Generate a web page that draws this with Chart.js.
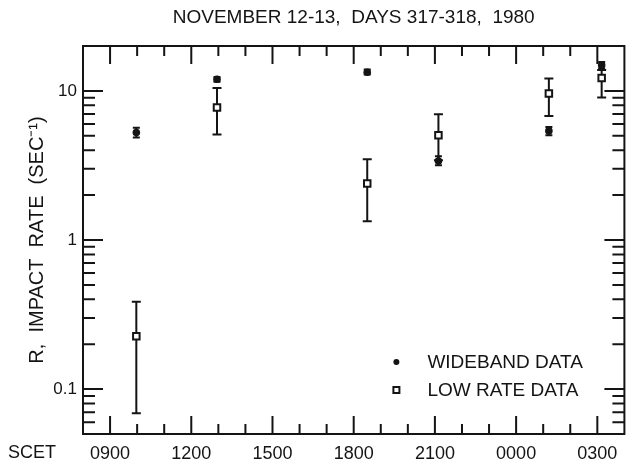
<!DOCTYPE html>
<html lang="en">

<head>
    <title>Impact Rate, November 12-13 1980</title>
    <script src="https://cdn.jsdelivr.net/npm/chart.js"></script>
    <style>
        body { margin: 0; background: #fff; }
    </style>
</head>

<body>
    <canvas id="chart" width="631" height="466"></canvas>

    <script>
        // SCET hour of each measurement (24 = 0000 next day)
        const scetHours = [9.97, 12.95, 18.5, 21.13, 25.21, 27.16];

        // Wideband data: value and error bar ends
        const widebandRate = [5.26, 11.98, 13.35, 3.39, 5.39, 14.9];
        const widebandLow  = [4.87, 11.5, 12.9, 3.17, 5.05, 14.2];
        const widebandHigh = [5.65, 12.4, 13.9, 3.65, 5.73, 15.6];

        // Low rate data: value and error bar ends
        const lowRate     = [0.226, 7.74, 2.39, 5.04, 9.61, 12.2];
        const lowRateLow  = [0.069, 5.10, 1.335, 3.43, 6.79, 9.03];
        const lowRateHigh = [0.386, 10.47, 3.48, 6.98, 12.11, 13.8];

        // Axis ticks
        const xTickHours  = [9, 12, 15, 18, 21, 24, 27];
        const xTickLabels = ['0900', '1200', '1500', '1800', '2100', '0000', '0300'];
        const yTickValues = [0.1, 1, 10];
        const yTickLabels = ['0.1', '1', '10'];

        const INK = '#141414';
        const FONT = "'Liberation Sans', Arial, sans-serif";

        const toPoints = (ys, lo, hi) => ys.map((y, i) => ({ x: scetHours[i], y: y, lo: lo[i], hi: hi[i] }));

        // Error bars, drawn under the markers
        const errorBars = {
            id: 'errorBars',
            beforeDatasetsDraw(chart) {
                const ctx = chart.ctx;
                const xs = chart.scales.x, ys = chart.scales.y;
                ctx.save();
                ctx.strokeStyle = INK;
                ctx.lineWidth = 2;
                chart.data.datasets.forEach(ds => {
                    const cap = ds.capWidth / 2;
                    ds.data.forEach(p => {
                        const x = xs.getPixelForValue(p.x);
                        const yl = ys.getPixelForValue(p.lo);
                        const yh = ys.getPixelForValue(p.hi);
                        ctx.beginPath();
                        ctx.moveTo(x, yl); ctx.lineTo(x, yh);
                        ctx.moveTo(x - cap, yl); ctx.lineTo(x + cap, yl);
                        ctx.moveTo(x - cap, yh); ctx.lineTo(x + cap, yh);
                        ctx.stroke();
                    });
                });
                ctx.restore();
            }
        };

        // Box frame with inward ticks on all four sides, plus legend and SCET label
        const frame = {
            id: 'frame',
            afterDraw(chart) {
                const ctx = chart.ctx;
                const a = chart.chartArea;
                const xs = chart.scales.x, ys = chart.scales.y;
                ctx.save();
                ctx.strokeStyle = INK;
                ctx.lineWidth = 2;
                ctx.strokeRect(a.left, a.top, a.right - a.left, a.bottom - a.top);

                ctx.beginPath();
                for (let h = Math.ceil(xs.min) + 1; h < xs.max; h++) {
                    const x = xs.getPixelForValue(h);
                    const len = h % 3 === 0 ? 18 : 10;
                    ctx.moveTo(x, a.bottom); ctx.lineTo(x, a.bottom - len);
                    ctx.moveTo(x, a.top); ctx.lineTo(x, a.top + len);
                }
                for (let d = -2; d <= 1; d++) {
                    for (let m = 1; m <= 9; m++) {
                        const v = m * Math.pow(10, d);
                        if (v <= ys.min || v >= ys.max) continue;
                        const y = ys.getPixelForValue(v);
                        const len = m === 1 ? 20 : 12;
                        ctx.moveTo(a.left, y); ctx.lineTo(a.left + len, y);
                        ctx.moveTo(a.right, y); ctx.lineTo(a.right - len, y);
                    }
                }
                ctx.stroke();

                // SCET label beside the x tick labels
                ctx.fillStyle = INK;
                ctx.font = '18px ' + FONT;
                ctx.textAlign = 'center';
                ctx.textBaseline = 'top';
                ctx.fillText('SCET', 32, xs.top + 10);

                // Legend
                const lx = a.right - 228;
                const rows = [a.bottom - 72, a.bottom - 44];
                ctx.font = '19px ' + FONT;
                ctx.textAlign = 'left';
                ctx.textBaseline = 'middle';
                chart.data.datasets.forEach((ds, i) => {
                    const y = rows[i];
                    if (ds.pointStyle === 'circle') {
                        ctx.beginPath();
                        ctx.arc(lx, y, 3, 0, Math.PI * 2);
                        ctx.fill();
                    } else {
                        ctx.fillStyle = '#fff';
                        ctx.fillRect(lx - 3, y - 3, 6, 6);
                        ctx.strokeRect(lx - 3, y - 3, 6, 6);
                        ctx.fillStyle = INK;
                    }
                    ctx.fillText(ds.label, lx + 31, y + 1);
                });
                ctx.restore();
            }
        };

        const ctx = document.getElementById('chart').getContext('2d');

        const chart = new Chart(ctx, {
            type: 'scatter',
            data: {
                datasets: [
                    {
                        label: 'WIDEBAND DATA',
                        data: toPoints(widebandRate, widebandLow, widebandHigh),
                        pointStyle: 'circle',
                        pointRadius: 3.8,
                        backgroundColor: INK,
                        borderColor: INK,
                        borderWidth: 0,
                        capWidth: 7
                    },
                    {
                        label: 'LOW RATE DATA',
                        data: toPoints(lowRate, lowRateLow, lowRateHigh),
                        pointStyle: 'rect',
                        pointRadius: 4.6,
                        backgroundColor: '#fff',
                        borderColor: INK,
                        borderWidth: 2,
                        capWidth: 9
                    }
                ]
            },
            options: {
                responsive: false,
                animation: false,
                events: [],
                layout: { padding: { top: 0, right: 1, bottom: 0, left: 0 } },
                plugins: {
                    legend: { display: false },
                    tooltip: { enabled: false },
                    title: {
                        display: true,
                        fullSize: false,
                        text: 'NOVEMBER 12-13,  DAYS 317-318,  1980',
                        color: INK,
                        font: { family: FONT, size: 19, weight: 'normal' },
                        padding: { top: 6, bottom: 17.2 }
                    }
                },
                scales: {
                    x: {
                        type: 'linear',
                        min: 8,
                        max: 28,
                        grid: { display: false, drawTicks: false },
                        border: { display: false },
                        afterBuildTicks: scale => { scale.ticks = xTickHours.map(v => ({ value: v })); },
                        afterFit: scale => { scale.height = 32; },
                        ticks: {
                            autoSkip: false,
                            maxRotation: 0,
                            padding: 9,
                            color: INK,
                            font: { family: FONT, size: 18 },
                            callback: (v, i) => xTickLabels[i]
                        }
                    },
                    y: {
                        type: 'logarithmic',
                        min: 0.05,
                        max: 20,
                        grid: { display: false, drawTicks: false },
                        border: { display: false },
                        afterBuildTicks: scale => { scale.ticks = yTickValues.map(v => ({ value: v })); },
                        afterFit: scale => { scale.width = 83; },
                        ticks: {
                            autoSkip: false,
                            padding: 6,
                            color: INK,
                            font: { family: FONT, size: 17 },
                            callback: (v, i) => yTickLabels[i]
                        },
                        title: {
                            display: true,
                            text: 'R,  IMPACT  RATE  (SEC\u207B\u00B9)',
                            color: INK,
                            font: { family: FONT, size: 20 },
                            padding: { top: 25, bottom: 0 }
                        }
                    }
                }
            },
            plugins: [errorBars, frame]
        });
    </script>
</body>

</html>
